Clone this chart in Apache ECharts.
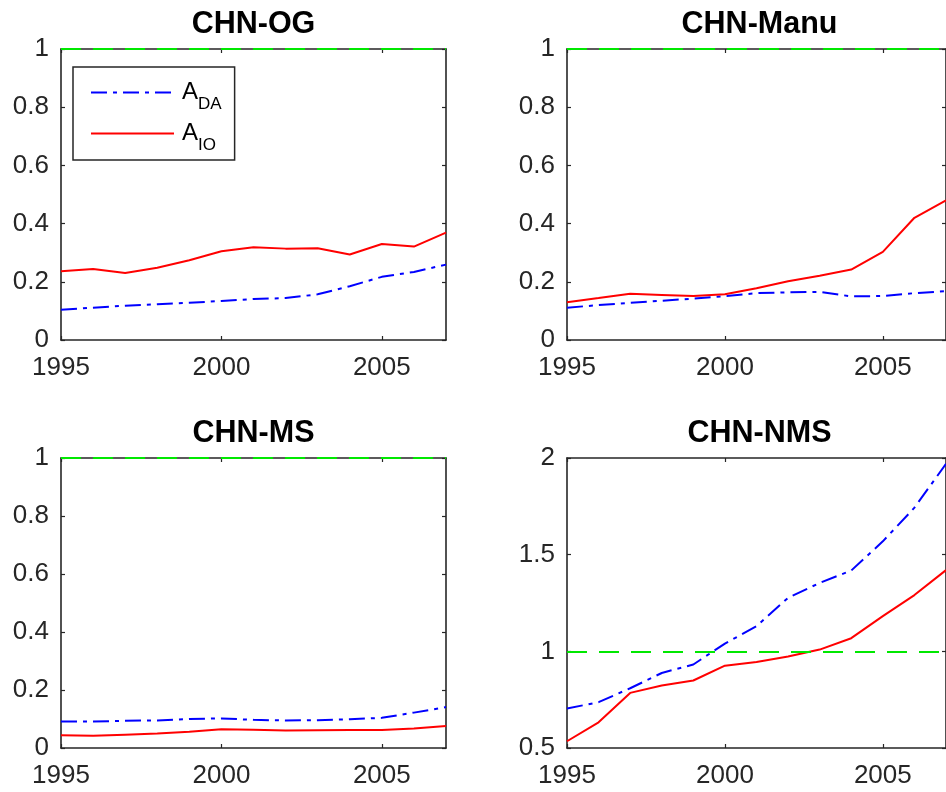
<!DOCTYPE html>
<html><head><meta charset="utf-8">
<script src="https://cdn.jsdelivr.net/npm/echarts@6/dist/echarts.min.js"></script>
<style>html,body{margin:0;padding:0;background:#fff}#c{width:946px;height:792px}</style>
</head><body><div id="c"></div>
<script>
const years = [1995,1996,1997,1998,1999,2000,2001,2002,2003,2004,2005,2006,2007];
const titles = ['CHN-OG','CHN-Manu','CHN-MS','CHN-NMS'];
const ogDA   = [0.104,0.111,0.118,0.123,0.128,0.134,0.141,0.144,0.157,0.185,0.217,0.234,0.259];
const ogIO   = [0.236,0.244,0.230,0.248,0.274,0.305,0.319,0.314,0.315,0.294,0.330,0.321,0.369];
const manuDA = [0.111,0.120,0.128,0.135,0.142,0.151,0.161,0.164,0.165,0.150,0.151,0.161,0.168];
const manuIO = [0.130,0.144,0.159,0.155,0.151,0.157,0.178,0.202,0.221,0.242,0.303,0.420,0.480];
const msDA   = [0.091,0.091,0.094,0.095,0.100,0.102,0.097,0.095,0.096,0.099,0.104,0.122,0.141];
const msIO   = [0.044,0.042,0.046,0.050,0.056,0.065,0.063,0.060,0.061,0.062,0.062,0.067,0.076];
const nmsDA  = [0.704,0.737,0.809,0.888,0.932,1.040,1.130,1.277,1.354,1.418,1.569,1.743,1.970];
const nmsIO  = [0.535,0.633,0.785,0.823,0.849,0.926,0.945,0.973,1.009,1.068,1.182,1.291,1.420];
const xTicks = [1995,2000,2005];
const yRange01 = {min:0, max:1, interval:0.2};
const yRangeNMS = {min:0.5, max:2, interval:0.5};
const refLevel = 1;
const seriesNames = ['DA','IO'];

const panels = [
  {title:titles[0], da:ogDA, io:ogIO, y:yRange01},
  {title:titles[1], da:manuDA, io:manuIO, y:yRange01},
  {title:titles[2], da:msDA, io:msIO, y:yRange01},
  {title:titles[3], da:nmsDA, io:nmsIO, y:yRangeNMS}
];
const grids = [
  {left:61, top:49, width:385, height:291},
  {left:567, top:49, width:385, height:291},
  {left:61, top:458, width:385, height:290},
  {left:567, top:458, width:385, height:290}
];
const FONT = 'Liberation Sans, Arial, sans-serif';
const AX = '#262626';
const axLine = {show:true, onZero:false, lineStyle:{color:AX, width:1.6}};
const tick = {show:true, inside:true, length:4, lineStyle:{color:AX, width:1.2}};

const xAxis = [], yAxis = [], series = [], title = [];
panels.forEach((p, i) => {
  xAxis.push({gridIndex:i, type:'value', min:1995, max:2007, interval:5, position:'bottom',
    axisLine:axLine, axisTick:Object.assign({}, tick, {customValues:xTicks}),
    axisLabel:{customValues:xTicks, margin:15, fontSize:26, color:AX, fontFamily:FONT, formatter:v=>String(v)},
    splitLine:{show:false}});
  xAxis.push({gridIndex:i, type:'value', min:1995, max:2007, interval:5, position:'top',
    axisLine:axLine, axisTick:Object.assign({}, tick, {customValues:xTicks}),
    axisLabel:{show:false}, splitLine:{show:false}});
  yAxis.push({gridIndex:i, type:'value', min:p.y.min, max:p.y.max, interval:p.y.interval, position:'left',
    axisLine:axLine, axisTick:tick,
    axisLabel:{margin:12, fontSize:26, color:AX, fontFamily:FONT, formatter:v=>String(+v.toFixed(2))},
    splitLine:{show:false}});
  yAxis.push({gridIndex:i, type:'value', min:p.y.min, max:p.y.max, interval:p.y.interval, position:'right',
    axisLine:axLine, axisTick:tick, axisLabel:{show:false}, splitLine:{show:false}});
  series.push({type:'line', name:seriesNames[0], xAxisIndex:2*i, yAxisIndex:2*i,
    data:years.map((y,k)=>[y,p.da[k]]), symbol:'none', showSymbol:false,
    lineStyle:{color:'#0000ff', width:2, type:[16,6,4,6]}, itemStyle:{color:'#0000ff'},
    markLine:{silent:true, symbol:'none', label:{show:false},
      lineStyle:{color:'#00e800', width:2, type:[20,12]}, data:[{yAxis:refLevel}]}});
  series.push({type:'line', name:seriesNames[1], xAxisIndex:2*i, yAxisIndex:2*i,
    data:years.map((y,k)=>[y,p.io[k]]), symbol:'none', showSymbol:false,
    lineStyle:{color:'#ff0000', width:2}, itemStyle:{color:'#ff0000'}});
  const g = grids[i];
  title.push({text:p.title, left:g.left + 192.5, top: g.top - 40, textAlign:'center', padding:0,
    textStyle:{fontSize:30.5, fontWeight:'bold', color:'#000', fontFamily:FONT}});
});

const chart = echarts.init(document.getElementById('c'), null, {renderer:'canvas'});
chart.setOption({
  animation:false,
  backgroundColor:'#fff',
  title, grid:grids, xAxis, yAxis, series,
  legend:{data:seriesNames, left:73, top:67, orient:'vertical', itemWidth:83, itemHeight:14, itemGap:0,
    padding:[5,13,6,17], borderColor:AX, borderWidth:1.5, backgroundColor:'#fff',
    selectedMode:false,
    itemStyle:{color:'rgba(0,0,0,0)', borderWidth:0, opacity:0},
    formatter:n=>'{a|A}{s|' + n + '}',
    textStyle:{fontFamily:FONT, lineHeight:40, rich:{
      a:{fontSize:24, lineHeight:40, height:40, color:'#000', fontFamily:FONT, padding:[0,0,0,3]},
      s:{fontSize:17, lineHeight:16, padding:[24,0,0,0], color:'#000', fontFamily:FONT}}}}
});
</script></body></html>
